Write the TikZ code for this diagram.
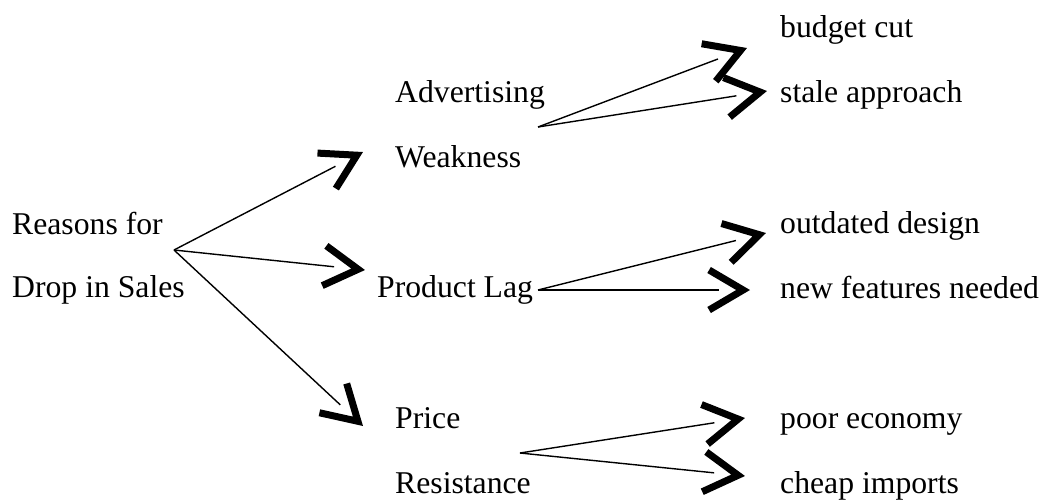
\documentclass[tikz,border=0pt]{standalone}
\usepackage{fontspec}
\setmainfont{Liberation Serif}
\usetikzlibrary{arrows.meta,decorations.markings}
\begin{document}
\begin{tikzpicture}[x=1pt,y=-1pt,
  lbl/.style={anchor=base west, inner sep=0pt, font=\fontsize{31.7}{37}\selectfont},
  conn/.style={line width=1.4pt, shorten >=31pt,
    postaction={decorate, decoration={markings,
      mark=at position 0.99999 with {\arrow{Straight Barb[sharp, length=34pt, width=40pt, line width=7pt]}}}}}]
\useasboundingbox (0,0) rectangle (1042,499);
% labels
\node[lbl] (reasons) at (12,234) {Reasons for};
\node[lbl] (drop) at (12,297) {Drop in Sales};
\node[lbl] (adv) at (395,102) {Advertising};
\node[lbl] (weak) at (395,167) {Weakness};
\node[lbl] (prod) at (377,297) {Product Lag};
\node[lbl] (price) at (395,428) {Price};
\node[lbl] (resist) at (395,493) {Resistance};
\node[lbl] (budget) at (780,37) {budget cut};
\node[lbl] (stale) at (780,102) {stale approach};
\node[lbl] (outdated) at (780,233) {outdated design};
\node[lbl] (newfeat) at (780,298) {new features needed};
\node[lbl] (poor) at (780,428) {poor economy};
\node[lbl] (cheap) at (780,493) {cheap imports};
% connector sources and tips
\coordinate (o1) at (174,250);
\coordinate (o2) at (538,127);
\coordinate (o3) at (538,290);
\coordinate (o4) at (520,453);
\coordinate (t1) at (363,152);
\coordinate (t2) at (365,270);
\coordinate (t3) at (363,426);
\coordinate (t21) at (747,48);
\coordinate (t22) at (767,91);
\coordinate (t31) at (766,233);
\coordinate (t32) at (750,290);
\coordinate (t41) at (745,418);
\coordinate (t42) at (745,476);
% connectors
\draw[conn] (o1) -- (t1);
\draw[conn] (o1) -- (t2);
\draw[conn] (o1) -- (t3);
\draw[conn] (o2) -- (t21);
\draw[conn] (o2) -- (t22);
\draw[conn] (o3) -- (t31);
\draw[conn] (o3) -- (t32);
\draw[conn] (o4) -- (t41);
\draw[conn] (o4) -- (t42);
\end{tikzpicture}
\end{document}
